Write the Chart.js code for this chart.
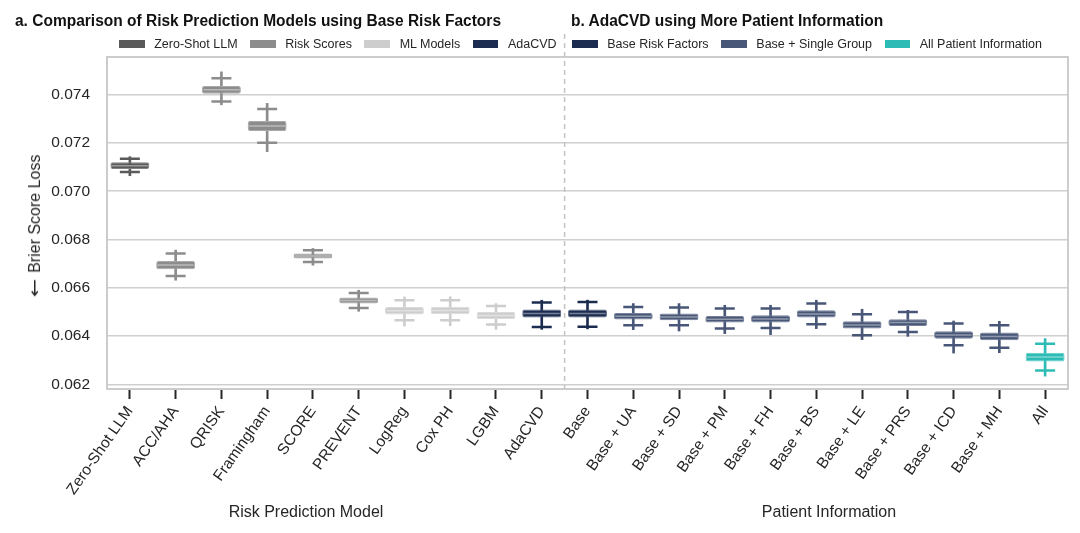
<!DOCTYPE html>
<html><head><meta charset="utf-8">
<script src="https://cdn.jsdelivr.net/npm/chart.js@4.4.1/dist/chart.umd.min.js"></script>
<style>
body{margin:0;background:#fff;}
#wrap{position:relative;width:1080px;height:533px;overflow:hidden;font-family:'Liberation Sans',Arial,Helvetica,sans-serif;color:#262626;}
canvas{position:absolute;left:0;top:0;}
.ttl{position:absolute;top:10px;font-weight:bold;font-size:16px;font-family:'Liberation Sans Narrow','Arial Narrow','Liberation Sans',sans-serif;white-space:nowrap;transform-origin:0 50%;color:#111;line-height:22px;}
.leg{position:absolute;top:36px;height:16px;display:flex;align-items:center;font-size:12.5px;white-space:nowrap;color:#262626;}
.leg .sw{display:inline-block;width:25.6px;height:8px;margin-right:9.6px;}
.leg .it{display:flex;align-items:center;margin-right:12.5px;}
.xt{position:absolute;top:502px;font-size:16px;line-height:20px;white-space:nowrap;transform:translateX(-50%);color:#262626;}
.yt{position:absolute;left:35px;top:226px;font-size:16px;line-height:20px;white-space:nowrap;transform:translate(-50%,-50%) rotate(-90deg);color:#262626;display:flex;align-items:center;}
.yt .ar{font-family:'DejaVu Sans',sans-serif;font-size:22px;line-height:20px;margin-right:6px;display:inline-block;transform:scaleY(0.75);}
</style></head>
<body>
<div id="wrap">
<canvas id="c" width="1080" height="533"></canvas>
<div class="ttl" id="ta" style="left:15px">a. Comparison of Risk Prediction Models using Base Risk Factors</div>
<div class="ttl" id="tb" style="left:571px">b. AdaCVD using More Patient Information</div>
<div class="leg" id="la" style="left:119px"></div>
<div class="leg" id="lb" style="left:572px"></div>
<div class="xt" style="left:306px">Risk Prediction Model</div>
<div class="xt" style="left:829px">Patient Information</div>
<div class="yt"><span class="ar">←</span><span>Brier Score Loss</span></div>
</div>
<script>
const categories = ['Zero-Shot LLM','ACC/AHA','QRISK','Framingham','SCORE','PREVENT','LogReg','Cox PH','LGBM','AdaCVD','Base','Base + UA','Base + SD','Base + PM','Base + FH','Base + BS','Base + LE','Base + PRS','Base + ICD','Base + MH','All'];
const groupIndex = [0,1,1,1,1,1,2,2,2,3,4,5,5,5,5,5,5,5,5,5,6];
const groupNames = ['Zero-Shot LLM','Risk Scores','ML Models','AdaCVD','Base Risk Factors','Base + Single Group','All Patient Information'];
const groupColors = ['#5a5a5a','#8c8c8c','#cdcdcd','#1c2c50','#1c2c50','#485677','#2dbcb5'];
const legendA = [0,1,2,3];
const legendB = [4,5,6];

const q1 =          [0.070921,0.066772,0.074033,0.072497,0.067215,0.065348,0.064892,0.064905,0.064709,0.064767,0.064770,0.064684,0.064656,0.064560,0.064560,0.064767,0.064311,0.064419,0.063896,0.063826,0.062954];
const median =      [0.071058,0.066946,0.074199,0.072705,0.067323,0.065473,0.065050,0.065060,0.064855,0.064933,0.064940,0.064822,0.064792,0.064697,0.064709,0.064917,0.064460,0.064560,0.064045,0.063983,0.063133];
const q3 =          [0.071198,0.067116,0.074364,0.072912,0.067423,0.065597,0.065207,0.065215,0.065000,0.065100,0.065100,0.064958,0.064933,0.064834,0.064863,0.065070,0.064614,0.064697,0.064199,0.064145,0.063315];
const whiskerLow =  [0.070797,0.066493,0.073713,0.072012,0.067074,0.065166,0.064656,0.064660,0.064477,0.064377,0.064390,0.064448,0.064448,0.064311,0.064336,0.064490,0.064033,0.064170,0.063618,0.063523,0.062581];
const whiskerHigh = [0.071348,0.067423,0.074684,0.073411,0.067560,0.065788,0.065485,0.065490,0.065249,0.065390,0.065410,0.065207,0.065182,0.065141,0.065141,0.065348,0.064904,0.065000,0.064518,0.064448,0.063689];
const minVal =      [0.070643,0.066315,0.073580,0.071640,0.066937,0.065029,0.064419,0.064430,0.064282,0.064282,0.064300,0.064270,0.064212,0.064104,0.064062,0.064311,0.063855,0.063992,0.063299,0.063315,0.062344];
const maxVal =      [0.071431,0.067560,0.074945,0.073640,0.067630,0.065900,0.065622,0.065630,0.065348,0.065485,0.065490,0.065348,0.065348,0.065278,0.065278,0.065485,0.065112,0.065070,0.064626,0.064614,0.063896];

const yTicks = [0.062,0.064,0.066,0.068,0.070,0.072,0.074];
const yMin = 0.06181, yMax = 0.07556;

function mix(hex, t){
  const n = parseInt(hex.slice(1),16);
  const r=(n>>16)&255, g=(n>>8)&255, b=n&255;
  const f=c=>Math.round(c+(255-c)*t);
  return 'rgb('+f(r)+','+f(g)+','+f(b)+')';
}
const colorPer = groupIndex.map(g=>groupColors[g]);
const edgePer = groupIndex.map(g=>mix(groupColors[g],0.25));
const medPer = groupIndex.map(g=>mix(groupColors[g],0.4));
const TXT = '#262626';

function buildLegend(el, idx){
  idx.forEach(g=>{
    const it=document.createElement('span'); it.className='it';
    const sw=document.createElement('span'); sw.className='sw'; sw.style.background=groupColors[g];
    const tx=document.createElement('span'); tx.textContent=groupNames[g];
    it.appendChild(sw); it.appendChild(tx); el.appendChild(it);
  });
}
buildLegend(document.getElementById('la'), legendA);
buildLegend(document.getElementById('lb'), legendB);

(function(){
  const ta=document.getElementById('ta'), tb=document.getElementById('tb');
  const w=ta.getBoundingClientRect().width;
  const s=486/w;
  ta.style.transform='scaleX('+s+')';
  tb.style.transform='scaleX('+s+')';
})();

const framePlugin = {
  id:'frame',
  beforeDatasetsDraw(chart){
    const {ctx, chartArea:a, scales:{x}} = chart;
    ctx.save();
    ctx.strokeStyle='#cccccc'; ctx.lineWidth=2;
    ctx.strokeRect(a.left, a.top, a.right-a.left, a.bottom-a.top);
    const xs=(x.getPixelForValue(9)+x.getPixelForValue(10))/2;
    ctx.setLineDash([5,4]); ctx.lineWidth=1.5; ctx.strokeStyle='#c4c4c4';
    ctx.beginPath(); ctx.moveTo(xs,34); ctx.lineTo(xs,a.bottom); ctx.stroke();
    ctx.restore();
  }
};

new Chart(document.getElementById('c'), {
  type:'bar',
  data:{
    labels:categories,
    datasets:[
      {type:'bar', label:'range', data:categories.map((_,i)=>[minVal[i],maxVal[i]]), backgroundColor:colorPer, barThickness:2, grouped:false, order:5},
      {type:'bar', label:'box', data:categories.map((_,i)=>[q1[i],q3[i]]), backgroundColor:colorPer, borderColor:edgePer, borderWidth:1, borderSkipped:false, borderRadius:2, grouped:false, barPercentage:0.85, categoryPercentage:1, order:2},
      {type:'line', label:'whiskerLow', data:whiskerLow, showLine:false, pointStyle:'line', pointRadius:10, pointBorderWidth:2.5, pointBorderColor:colorPer, pointBackgroundColor:colorPer, order:3},
      {type:'line', label:'whiskerHigh', data:whiskerHigh, showLine:false, pointStyle:'line', pointRadius:10, pointBorderWidth:2.5, pointBorderColor:colorPer, pointBackgroundColor:colorPer, order:3},
      {type:'line', label:'median', data:median, showLine:false, pointStyle:'line', pointRadius:18, pointBorderWidth:1.5, pointBorderColor:medPer, pointBackgroundColor:medPer, order:1}
    ]
  },
  options:{
    responsive:false, animation:false,
    layout:{autoPadding:false, padding:{top:57,right:12,bottom:0,left:0}},
    plugins:{legend:{display:false}, tooltip:{enabled:false}},
    scales:{
      x:{type:'category', offset:true,
        grid:{display:true, drawOnChartArea:false, drawTicks:true, tickLength:10, tickColor:TXT, tickWidth:2, offset:false},
        border:{display:false},
        ticks:{autoSkip:false, minRotation:55, maxRotation:55, padding:4, color:TXT, font:{size:15.5, family:"'Liberation Sans', Arial, sans-serif"}},
        afterFit(s){ s.height=144; s.paddingLeft=0; s.paddingRight=0; }
      },
      y:{min:yMin, max:yMax,
        afterBuildTicks(s){ s.ticks=yTicks.map(v=>({value:v})); },
        ticks:{callback:v=>Number(v).toFixed(3), padding:17, color:TXT, font:{size:15.5, family:"'Liberation Sans', Arial, sans-serif"}},
        grid:{color:'#cfcfcf', lineWidth:1.5, drawTicks:false},
        border:{display:false},
        title:{display:false},
        afterFit(s){ s.width=107; s.paddingTop=0; s.paddingBottom=0; }
      }
    }
  },
  plugins:[framePlugin]
});
</script>
</body></html>
